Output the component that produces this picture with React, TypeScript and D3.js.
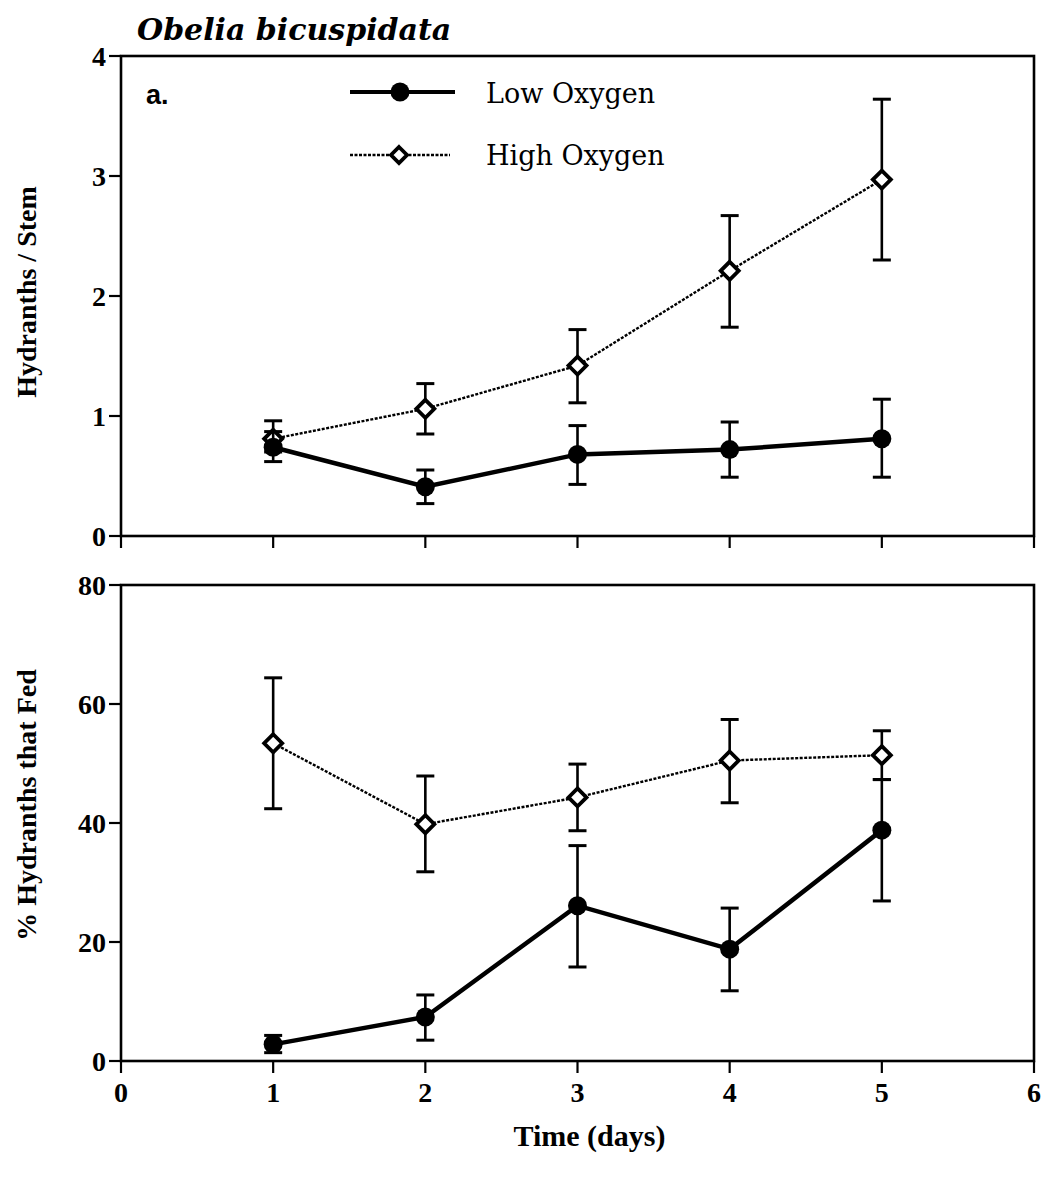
import React from "react";
import * as d3 from "d3";

const days = [1, 2, 3, 4, 5];
const xTicks = [0, 1, 2, 3, 4, 5, 6];

// Panel a: Hydranths / Stem
const lowStem = [0.74, 0.41, 0.68, 0.72, 0.81];
const lowStemHi = [0.87, 0.55, 0.92, 0.95, 1.14];
const lowStemLo = [0.62, 0.27, 0.43, 0.49, 0.49];
const highStem = [0.81, 1.06, 1.42, 2.21, 2.97];
const highStemHi = [0.96, 1.27, 1.72, 2.67, 3.64];
const highStemLo = [0.7, 0.85, 1.11, 1.74, 2.3];
const stemTicks = [0, 1, 2, 3, 4];

// Panel b: % Hydranths that Fed
const lowFed = [2.8, 7.4, 26.1, 18.8, 38.8];
const lowFedHi = [4.3, 11.1, 36.2, 25.7, 47.3];
const lowFedLo = [1.4, 3.5, 15.8, 11.8, 26.9];
const highFed = [53.4, 39.8, 44.3, 50.5, 51.4];
const highFedHi = [64.4, 47.9, 49.9, 57.4, 55.5];
const highFedLo = [42.4, 31.8, 38.7, 43.4, 47.3];
const fedTicks = [0, 20, 40, 60, 80];

const W = 1047;
const H = 1183;
const left = 121;
const right = 1034;
const serif = "'Liberation Serif', 'Times New Roman', serif";
const pal = "'DejaVu Serif', 'Liberation Serif', serif";

const x = d3.scaleLinear().domain([0, 6]).range([left, right]);
const yTop = d3.scaleLinear().domain([0, 4]).range([536, 56]);
const yBot = d3.scaleLinear().domain([0, 80]).range([1061, 585]);

function diamond(cx: number, cy: number, r: number) {
  return `M${cx},${cy - r}L${cx + r},${cy}L${cx},${cy + r}L${cx - r},${cy}Z`;
}

function Series({ y, vals, hi, lo, kind }: any) {
  const line = d3
    .line<number>()
    .x((_, i) => x(days[i]))
    .y((v) => y(v));
  return (
    <g>
      {days.map((d, i) => (
        <g key={"e" + i} stroke="#000" strokeWidth={2.6}>
          <line x1={x(d)} x2={x(d)} y1={y(hi[i])} y2={y(lo[i])} />
          <line x1={x(d) - 9} x2={x(d) + 9} y1={y(hi[i])} y2={y(hi[i])} strokeWidth={3} />
          <line x1={x(d) - 9} x2={x(d) + 9} y1={y(lo[i])} y2={y(lo[i])} strokeWidth={3} />
        </g>
      ))}
      <path
        d={line(vals) || ""}
        fill="none"
        stroke="#000"
        strokeWidth={kind === "low" ? 4.5 : 2.4}
        strokeDasharray={kind === "low" ? undefined : "3,1.5"}
      />
      {days.map((d, i) =>
        kind === "low" ? (
          <circle key={"m" + i} cx={x(d)} cy={y(vals[i])} r={9.5} fill="#000" />
        ) : (
          <path
            key={"m" + i}
            d={diamond(x(d), y(vals[i]), 9)}
            fill="#fff"
            stroke="#000"
            strokeWidth={3.8}
          />
        )
      )}
    </g>
  );
}

function Panel({ y, ticks, top, bottom }: any) {
  return (
    <g>
      <rect
        x={left}
        y={top}
        width={right - left}
        height={bottom - top}
        fill="none"
        stroke="#000"
        strokeWidth={2.6}
      />
      {ticks.map((t: number) => (
        <g key={"y" + t}>
          <line x1={left - 12} x2={left} y1={y(t)} y2={y(t)} stroke="#000" strokeWidth={2.2} />
          <text
            x={left - 15}
            y={y(t)}
            dy="0.35em"
            textAnchor="end"
            fontFamily={serif}
            fontWeight="bold"
            fontSize={28}
          >
            {t}
          </text>
        </g>
      ))}
      {xTicks.map((t) => (
        <line
          key={"x" + t}
          x1={x(t)}
          x2={x(t)}
          y1={bottom}
          y2={bottom + 12}
          stroke="#000"
          strokeWidth={2.2}
        />
      ))}
    </g>
  );
}

export default function App() {
  return (
    <svg
      width={W}
      height={H}
      style={{ position: "absolute", left: 0, top: 0, background: "#fff" }}
    >
      <rect x={0} y={0} width={W} height={H} fill="#fff" />
      <text
        x={137}
        y={40}
        fontFamily={pal}
        fontStyle="italic"
        fontWeight="bold"
        fontSize={30}
      >
        Obelia bicuspidata
      </text>

      <Panel y={yTop} ticks={stemTicks} top={56} bottom={536} />
      <Panel y={yBot} ticks={fedTicks} top={585} bottom={1061} />

      <text x={146} y={104} fontFamily="'Liberation Sans', Arial, sans-serif" fontWeight="bold" fontSize={27}>
        a.
      </text>

      {/* legend */}
      <line x1={350} x2={455} y1={92} y2={92} stroke="#000" strokeWidth={3.8} />
      <circle cx={400} cy={92} r={9.5} fill="#000" />
      <text x={486} y={103} fontFamily={pal} fontSize={27}>
        Low Oxygen
      </text>
      <line x1={350} x2={450} y1={155} y2={155} stroke="#000" strokeWidth={2.4} strokeDasharray="3,1.5" />
      <path d={diamond(399, 155, 8)} fill="#fff" stroke="#000" strokeWidth={3.8} />
      <text x={486} y={165} fontFamily={pal} fontSize={27}>
        High Oxygen
      </text>

      <Series y={yTop} vals={highStem} hi={highStemHi} lo={highStemLo} kind="high" />
      <Series y={yTop} vals={lowStem} hi={lowStemHi} lo={lowStemLo} kind="low" />
      <Series y={yBot} vals={highFed} hi={highFedHi} lo={highFedLo} kind="high" />
      <Series y={yBot} vals={lowFed} hi={lowFedHi} lo={lowFedLo} kind="low" />

      {xTicks.map((t) => (
        <text
          key={"xl" + t}
          x={x(t)}
          y={1102}
          textAnchor="middle"
          fontFamily={serif}
          fontWeight="bold"
          fontSize={28}
        >
          {t}
        </text>
      ))}
      <text
        x={(left + right) / 2 + 12}
        y={1146}
        textAnchor="middle"
        fontFamily={serif}
        fontWeight="bold"
        fontSize={30}
      >
        Time (days)
      </text>
      <text
        transform={`translate(36,${yTop(2) - 4}) rotate(-90)`}
        textAnchor="middle"
        fontFamily={serif}
        fontWeight="bold"
        fontSize={28}
      >
        Hydranths / Stem
      </text>
      <text
        transform={`translate(36,${yBot(40) - 18}) rotate(-90)`}
        textAnchor="middle"
        fontFamily={serif}
        fontWeight="bold"
        fontSize={28}
      >
        % Hydranths that Fed
      </text>
    </svg>
  );
}
